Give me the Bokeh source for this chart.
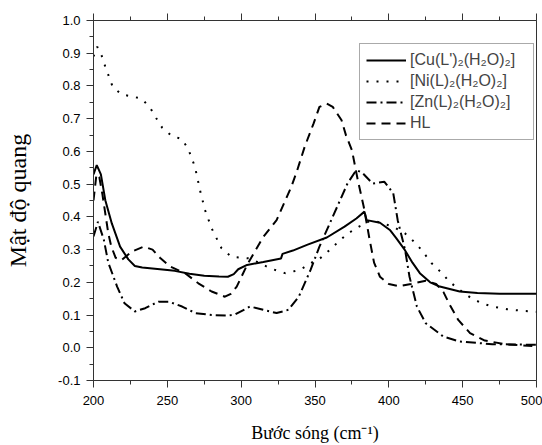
from bokeh.plotting import figure
from bokeh.models import LinearAxis, Range1d, Legend, LegendItem, FixedTicker, CustomJSTickFormatter
from bokeh.embed import file_html
from bokeh.resources import INLINE

# Wavelength / absorbance data
cu_x = [200, 202.2, 205, 208, 212.4, 218, 223.6, 228, 233, 245, 255, 265, 275, 285, 291, 295, 298, 304, 315, 327, 328, 335, 345, 358, 370, 378, 383.5, 385, 394, 400.7, 405, 410.8, 416, 421, 428, 434.5, 448, 460, 475, 500]
cu_y = [0.53, 0.558, 0.53, 0.451, 0.38, 0.309, 0.27, 0.25, 0.245, 0.24, 0.235, 0.226, 0.22, 0.218, 0.217, 0.225, 0.24, 0.253, 0.262, 0.273, 0.287, 0.297, 0.315, 0.337, 0.37, 0.395, 0.416, 0.39, 0.382, 0.36, 0.335, 0.299, 0.26, 0.228, 0.2, 0.187, 0.172, 0.167, 0.165, 0.165]

ni_x = [200, 202.5, 206, 208, 210.6, 213, 219, 226, 232.6, 238.3, 242.4, 246.6, 252.9, 260, 264.2, 268.7, 272.1, 275.5, 280, 286.7, 293.4, 306, 319.6, 329.7, 340, 346.6, 353.4, 360, 367, 372.5, 380.4, 385, 392, 403, 410.8, 418, 423, 429, 436, 441, 450, 456, 463, 470, 480, 490, 500]
ni_y = [0.89, 0.92, 0.888, 0.858, 0.827, 0.797, 0.774, 0.768, 0.761, 0.734, 0.702, 0.672, 0.648, 0.637, 0.607, 0.553, 0.482, 0.421, 0.365, 0.304, 0.278, 0.273, 0.243, 0.228, 0.238, 0.258, 0.273, 0.299, 0.329, 0.35, 0.372, 0.385, 0.385, 0.37, 0.35, 0.32, 0.294, 0.258, 0.228, 0.202, 0.17, 0.151, 0.136, 0.126, 0.118, 0.113, 0.11]

zn_x = [200, 203, 207, 210, 216, 221, 228, 235, 244, 251, 260, 269, 280, 291, 296, 306, 315, 324, 332, 339, 347, 353, 360, 367, 372, 378, 382, 389, 397, 403, 406, 411, 414, 419, 425, 437, 448, 470, 500]
zn_y = [0.34, 0.385, 0.33, 0.26, 0.187, 0.136, 0.111, 0.121, 0.141, 0.141, 0.126, 0.106, 0.1, 0.098, 0.102, 0.126, 0.116, 0.106, 0.116, 0.156, 0.238, 0.309, 0.38, 0.451, 0.502, 0.543, 0.535, 0.502, 0.507, 0.472, 0.39, 0.299, 0.217, 0.126, 0.075, 0.034, 0.019, 0.011, 0.009]

hl_x = [200, 202, 204, 206, 208, 210, 212, 215, 219, 226, 234, 240, 245, 252, 262, 271, 280, 289, 293, 297, 304, 315, 324, 329, 334, 338, 343, 349, 353, 358, 362, 368, 371, 375, 379, 383, 387, 390, 394, 400, 407, 415, 425, 432, 437, 442, 447, 455, 465, 480, 500]
hl_y = [0.45, 0.53, 0.52, 0.47, 0.41, 0.35, 0.31, 0.275, 0.268, 0.294, 0.309, 0.3, 0.275, 0.248, 0.228, 0.197, 0.172, 0.156, 0.165, 0.187, 0.253, 0.339, 0.39, 0.441, 0.492, 0.543, 0.614, 0.685, 0.736, 0.746, 0.736, 0.695, 0.649, 0.604, 0.512, 0.431, 0.33, 0.26, 0.217, 0.195, 0.188, 0.195, 0.205, 0.195, 0.17, 0.125, 0.085, 0.045, 0.022, 0.01, 0.005]

x_ticks = [200, 250, 300, 350, 400, 450, 500]
x_minor = [225, 275, 325, 375, 425, 475]
y_ticks = [-0.1, 0.0, 0.1, 0.2, 0.3, 0.4, 0.5, 0.6, 0.7, 0.8, 0.9, 1.0]
y_minor = [-0.05, 0.05, 0.15, 0.25, 0.35, 0.45, 0.55, 0.65, 0.75, 0.85, 0.95]
labels = ["[Cu(L')₂(H₂O)₂]", "[Ni(L)₂(H₂O)₂]", "[Zn(L)₂(H₂O)₂]", "HL"]

AX = "#333333"
TICK_FONT = "Liberation Sans"
SERIF = "Liberation Serif"

p = figure(width=542, height=445, output_backend="svg", toolbar_location=None,
           x_range=Range1d(200, 500), y_range=Range1d(-0.1, 1.0),
           min_border_left=93, min_border_right=6, min_border_top=20, min_border_bottom=64)
p.xgrid.visible = False
p.ygrid.visible = False
p.outline_line_color = AX
p.outline_line_width = 1
p.background_fill_color = "white"

r_cu = p.line(cu_x, cu_y, line_color="black", line_width=2)
r_ni = p.line(ni_x, ni_y, line_color="black", line_width=2, line_dash="2 8")
r_zn = p.line(zn_x, zn_y, line_color="black", line_width=2, line_dash="10 4 2 4")
r_hl = p.line(hl_x, hl_y, line_color="black", line_width=2, line_dash="9 6")

def style_axis(ax):
    ax.axis_line_color = AX
    ax.major_tick_line_color = AX
    ax.minor_tick_line_color = AX
    ax.major_tick_out = 7
    ax.major_tick_in = 0
    ax.minor_tick_out = 4
    ax.minor_tick_in = 0
    ax.major_label_text_font = TICK_FONT
    ax.major_label_text_font_size = "13px"
    ax.major_label_text_color = "black"
    ax.axis_label_text_font = SERIF
    ax.axis_label_text_font_style = "normal"
    ax.axis_label_text_color = "black"

xa = p.xaxis[0]
ya = p.yaxis[0]
style_axis(xa)
style_axis(ya)
xa.ticker = FixedTicker(ticks=x_ticks, minor_ticks=x_minor)
ya.ticker = FixedTicker(ticks=y_ticks, minor_ticks=y_minor)
ya.formatter = CustomJSTickFormatter(code="return tick.toFixed(1);")
xa.axis_label = "Bước sóng (cm⁻¹)"
ya.axis_label = "Mật độ quang"
xa.axis_label_text_font_size = "18px"
ya.axis_label_text_font_size = "24px"
xa.major_label_standoff = 8
ya.major_label_standoff = 6
xa.axis_label_standoff = 15
ya.axis_label_standoff = 24

top = LinearAxis(ticker=FixedTicker(ticks=x_ticks, minor_ticks=x_minor),
                 formatter=CustomJSTickFormatter(code="return '';"))
style_axis(top)
top.major_label_standoff = 0
p.add_layout(top, "above")

items = [LegendItem(label=labels[0], renderers=[r_cu]),
         LegendItem(label=labels[1], renderers=[r_ni]),
         LegendItem(label=labels[2], renderers=[r_zn]),
         LegendItem(label=labels[3], renderers=[r_hl])]
legend = Legend(items=items, location=(266, 240))
legend.border_line_color = "#555555"
legend.border_line_width = 1
legend.background_fill_alpha = 1
legend.label_text_font = TICK_FONT
legend.label_text_font_size = "16px"
legend.glyph_width = 40
legend.glyph_height = 20
legend.label_height = 20
legend.label_width = 117
legend.label_standoff = 4
legend.spacing = 1
legend.padding = 6
legend.margin = 0
p.add_layout(legend, "center")

open("out.html", "w").write(file_html(p, INLINE))
